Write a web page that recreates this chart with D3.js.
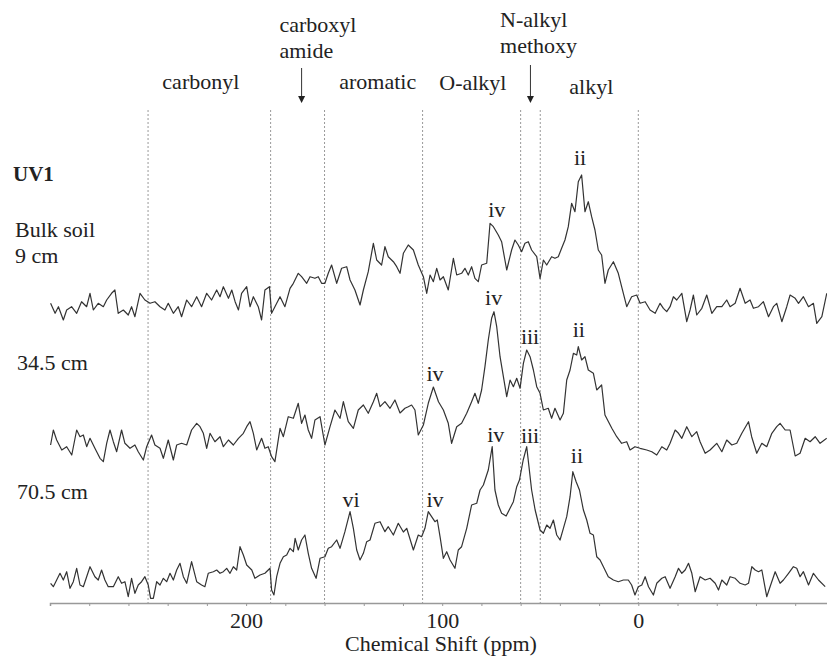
<!DOCTYPE html>
<html>
<head>
<meta charset="utf-8">
<script src="https://cdn.jsdelivr.net/npm/d3@7"></script>
<style>
  body { margin: 0; background: #fff; }
  svg { display: block; }
  svg text { font-family: "Liberation Serif", "Times New Roman", "DejaVu Serif", serif !important; fill: #222; }
</style>
</head>
<body>
<div id="chart"></div>
<script>
// spectra: [chemical shift (ppm), intensity (a.u.)]
const bulk9 = [
  [299.7,21.7],[297.4,11.7],[295.7,18.3],[293.2,5],[291.5,15],[289,18.3],[286.4,11.7],[283.9,23.3],[281.3,18.3],[279.6,31.7],
  [277.9,15],[275.4,21.7],[272.8,18.3],[271.1,25],[268.6,31.7],[266.9,35],[265.2,11.7],[262.6,15],[260.1,10],[258.4,18.3],
  [256.7,8.3],[254.1,31.7],[251.6,25],[249,21.7],[246.5,23.3],[243.9,18.3],[241.4,15],[239.7,21.7],[237.1,11.7],[234.6,18.3],
  [232.9,8.3],[230.3,25],[227.8,18.3],[225.2,28.3],[222.7,18.3],[220.1,31.7],[217.6,25],[215,35],[213.3,28.3],[211.6,38.3],
  [209,26.7],[207.3,35],[205.6,23.3],[203.9,15],[202.3,31.7],[199.7,38.3],[198,18.3],[196.3,28.3],[193.8,18.3],[192.1,5],
  [190.4,35],[188.1,38.3],[187,11.7],[185.3,18.3],[182.7,28.3],[180.2,18.3],[177.6,36.7],[175.9,41.7],[173.4,51.7],[171.7,48.3],
  [169.1,41.7],[167.4,48.3],[164.9,46.7],[163.2,48.3],[161.5,41.7],[159.8,41.7],[158.1,51.7],[156.4,60],[153.8,41.7],[151.3,56.7],
  [148.7,58.3],[147,45],[144.5,35],[141.9,20],[140.2,35],[137.7,53.3],[135.1,81.7],[133.4,65],[130.9,60],[129.2,78.3],
  [127.5,68.3],[124.9,63.3],[123.2,58.3],[121.5,51.7],[119.8,71.7],[117.3,80],[114.7,75],[112.2,60],[109.6,48.3],[107.9,31.7],
  [106.2,50],[104.5,43.3],[102.8,56.7],[101.1,45],[99.4,48.3],[96.9,35],[94.3,66.7],[92.6,50],[90.1,51.7],[88.4,56.7],
  [86.7,50],[85,58.3],[83.3,46.7],[81.6,43.3],[79.9,60],[77.3,61.7],[75.6,101.7],[73.9,98.3],[71.4,90],[69.7,83.3],
  [67.1,55],[64.6,75],[62.9,85],[61.2,80],[59.5,73.3],[57.8,81.7],[56.1,83.3],[54.4,75],[51.8,68.3],[50.1,46.7],
  [48.4,65],[46.7,60],[44.2,68.3],[42.5,66.7],[40.8,68.3],[39.1,76.7],[37.4,85],[35.7,98.3],[34,121.7],[32.3,113.3],
  [30.6,143.3],[28.9,150],[27.2,113.3],[25.5,123.3],[23.8,108.3],[22.1,95],[20.4,75],[18.7,70],[17,41.7],[15.3,55],
  [12.7,63.3],[10.2,51.7],[8.5,38.3],[5.9,18.3],[3.4,28.3],[0.8,30],[-0.9,21.7],[-3.5,23.3],[-6,15],[-8.6,11.7],
  [-11.1,21.7],[-12.8,16.7],[-14.5,13.3],[-16.2,18.3],[-17.9,28.3],[-19.6,25],[-22.2,31.7],[-24.7,3.3],[-26.4,15],[-28.1,30],
  [-29.8,10],[-32.4,16.7],[-34.9,30],[-37.5,11.7],[-40,18.3],[-42.6,18.3],[-45.1,25],[-46.8,18.3],[-49.4,21.7],[-51.9,36.7],
  [-54.5,21.7],[-57,25],[-58.7,16.7],[-61.3,18.3],[-63.8,23.3],[-66.4,8.3],[-68.9,18.3],[-70.6,21.7],[-73.2,3.3],[-75.7,18.3],
  [-77.4,30],[-80,26.7],[-81.7,21.7],[-84.2,28.3],[-86.8,18.3],[-89.3,21.7],[-91,1.7],[-93.6,8.3],[-96.1,31.7]
];

const depth345 = [
  [299.7,20],[298.3,35],[296.6,25],[294,15],[291.5,18.3],[288.9,10],[286.4,35],[284.7,28.3],[283,30],[281.3,18.3],
  [279.6,26.7],[277.1,16.7],[274.5,6.7],[272.8,3.3],[271.1,21.7],[269.4,35],[267.7,23.3],[266,13.3],[263.5,35],[261.8,21.7],
  [259.2,16.7],[256.7,20],[255,13.3],[252.4,5],[250.7,18.3],[248.2,30],[246.5,20],[243.9,16.7],[242.2,6.7],[239.7,25],
  [237.1,5],[235.4,20],[232.9,21.7],[230.3,20],[227.8,35],[225.2,41.7],[223.5,38.3],[221.8,31.7],[220.1,16.7],[218.4,31.7],
  [215.9,23.3],[213.3,28.3],[211.6,18.3],[209,25],[206.5,20],[203.9,26.7],[201.4,31.7],[199.7,38.3],[198,43.3],[196.3,31.7],
  [194.6,15],[192.1,26.7],[190.4,16.7],[188.7,18.3],[187,8.3],[185.3,3.3],[182.7,36.7],[181,28.3],[178.5,48.3],[175.9,46.7],
  [173.4,61.7],[171.7,41.7],[170,50],[168.3,35],[166.6,26.7],[164.9,45],[162.3,48.3],[159.8,20],[157.2,38.3],[154.7,55],
  [152.1,46.7],[150.4,63.3],[147.9,43.3],[145.3,36.7],[142.8,55],[140.2,60],[137.7,51.7],[135.1,63.3],[133.4,71.7],[131.7,58.3],
  [129.2,63.3],[126.6,56.7],[124.1,65],[121.5,52],[119,56.7],[117.3,58.3],[115.6,60],[113.9,55],[112.2,30],[109.6,40],
  [107.1,61.7],[104.5,78],[101.9,63.3],[99.4,55],[96.9,41.7],[95.2,21.7],[92.6,38.3],[90.1,41.7],[87.5,51.7],[85,63.3],
  [83.3,71.7],[81.6,61.7],[79.9,75],[78.2,98.3],[76.5,125],[74.8,146.7],[73.6,153.3],[72.2,138.3],[70.5,108.3],[68.8,88.3],
  [67.1,68.3],[65.4,85],[63.7,78.3],[62,86.7],[60.3,76.7],[58.6,101.7],[56.9,115],[55.2,108.3],[53.5,95],[51.8,78.3],
  [50.1,71.7],[48.4,55],[45.9,56.7],[44.2,46.7],[42.5,56.7],[39.9,45],[38.2,51.7],[36.5,85],[34.8,95],[33.1,111.7],
  [31.4,110],[30.6,118.3],[28.9,105],[27.2,108.3],[25.5,95],[22.9,91.7],[21.2,75],[18.7,80],[17,50],[13.5,36.7],
  [11,28.3],[8.5,21.7],[5.9,23.3],[4.2,15],[1.7,18.3],[-0.9,16.7],[-4.3,15],[-6.9,13.3],[-9.4,10],[-12,18.3],
  [-14.5,15],[-16.2,21.7],[-18.8,35],[-20.5,31.7],[-22.2,26.7],[-24.7,38.3],[-27.3,28.3],[-29.8,33.3],[-31.5,23.3],[-34.1,11.7],
  [-36.6,15],[-40,21.7],[-42.6,13.3],[-45.1,25],[-47.7,20],[-50.2,21.7],[-52.8,31.7],[-56.2,43.3],[-57.8,28.3],[-60.4,11.7],
  [-63,21.7],[-65.5,18.3],[-68.1,31.7],[-70.6,38.3],[-72.3,41.7],[-74.9,35],[-77.4,35],[-80,9],[-82.5,11.7],[-85.1,26.7],
  [-87.6,23.3],[-90.2,28.3],[-92.7,21.7],[-96.1,26.7]
];

const depth705 = [
  [299.7,16.7],[298.3,13.3],[296.6,20],[294.9,26.7],[293.2,20],[291.5,28.3],[289.8,11.7],[288.1,18.3],[286.4,31.7],[284.7,15],
  [283,13.3],[281.3,23.3],[279.6,33.3],[277.1,23.3],[275.4,20],[273.7,30],[272,20],[270.3,13.3],[267.7,13.3],[265.2,23.3],
  [263.5,16.7],[261.8,18.3],[260.1,3.3],[258.4,21.7],[256.7,6.7],[255,15],[253.3,18.3],[251.6,23.3],[249.9,15],[248.7,1.7],
  [247.3,1.7],[245.6,18.3],[243.9,15],[242.2,21.7],[240.5,18.3],[238.8,26.7],[237.1,20],[235.4,30],[233.7,36.7],[232,23.3],
  [230.3,16.7],[227.8,38.3],[225.2,18.3],[222.7,15],[221,13.3],[219.3,26.7],[216.7,28.3],[215,30],[213.3,26.7],[211.6,28.3],
  [209.9,31.7],[208.2,26.7],[206.5,33.3],[204.8,30],[203.1,53.3],[201.4,45],[199.7,35],[197.1,30],[195.5,21.7],[192.9,25],
  [190.4,26.7],[187.8,31.7],[187,10],[185.8,5],[184.4,23.3],[182.7,36.7],[181,43.3],[179.3,45],[177.6,51.7],[175.9,48.3],
  [175,61.7],[173.4,50],[171.7,60],[170,65],[168.3,46.7],[166.6,31.7],[164.3,21.7],[162.3,41.7],[159.8,43.3],[158.1,51.7],
  [156.4,53.3],[153.8,60],[152.1,51.7],[149.6,68.3],[147,88.3],[145.3,71.7],[143.6,50],[141.9,40],[140.2,46.7],[138.5,58.3],
  [136.8,60],[134.3,76.7],[131.7,78.3],[129.2,68.3],[127.5,73.3],[124.9,65],[122.4,76.7],[119.8,68],[118.1,71.7],[114.7,50],
  [112.2,65],[110.5,63.3],[108.8,71.7],[107.1,88.3],[105.4,83.3],[103.7,78.3],[102.5,80],[101.1,63.3],[99.4,41.7],[97.7,48.3],
  [96,40],[93.5,31.7],[91.8,50],[90.1,53.3],[87.5,71.7],[85,95],[82.4,96.7],[80.7,110],[79,115],[76.5,130],
  [74.5,153.3],[73.1,110],[71.4,95],[69.7,86.7],[67.4,84],[65.4,91.7],[63.7,98.3],[62,113.3],[60.6,120],[58.7,140],
  [56.9,153.3],[54.4,110],[52.6,90],[50.1,70],[48.4,66.7],[46.7,75],[45,71.7],[43.3,80],[41.6,65],[39.9,60],
  [38.2,71.7],[36.5,83.3],[34.8,103.3],[33.4,128.3],[31.7,118.3],[30,110],[28,90],[26.3,80],[24.6,66.7],[22.9,65],
  [21.2,43.3],[19.5,40],[17.8,33.3],[15.3,23.3],[12.7,20],[10.2,18.3],[7.6,20],[5.1,20],[3.4,15],[1.7,5],
  [0,13.3],[-1.8,15],[-3.5,23.3],[-5.2,13.3],[-7.7,5],[-9.4,16.7],[-12,21.7],[-13.7,23.3],[-16.2,11.7],[-18.8,23.3],
  [-20.5,31.7],[-22.2,26.7],[-23.9,30],[-25.6,36.7],[-27.3,26.7],[-29,8.3],[-31.5,23.3],[-34.1,20],[-36.6,21.7],[-39.2,16.7],
  [-40.9,10],[-42.6,20],[-45.1,15],[-46.8,23.3],[-49.4,21.7],[-51.9,16.7],[-54.5,15],[-56.2,16.7],[-57.9,33.3],[-59.6,30],
  [-61.3,28.3],[-63,30],[-65.5,3.3],[-67.2,13.3],[-69.8,28.3],[-72.3,16.7],[-74,20],[-76.6,26.7],[-79.1,33.3],[-80.8,31.7],
  [-82.5,23.3],[-84.2,28.3],[-86.8,15],[-89.3,26.7],[-91.9,20],[-95.3,13.3]
];

const spectrumNames = [['Bulk soil', '9 cm'], ['34.5 cm'], ['70.5 cm']];

// region boundaries (ppm)
const boundaries = [250, 187.5, 160, 110, 60, 50, 0];

// region labels: [text lines, ppm of left edge]
const regionLabels = [
  [['carbonyl'], 242.7],
  [['carboxyl', 'amide'], 183],
  [['aromatic'], 152.5],
  [['O-alkyl'], 101.5],
  [['N-alkyl', 'methoxy'], 70.5],
  [['alkyl'], 35.2]
];
const arrowPpm = [171.7, 55];

// peak labels per spectrum: [label, ppm, intensity level]
const peakLabels = [
  [['ii', 29.7, 160], ['iv', 72.2, 108]],
  [['iv', 73.8, 160], ['iii', 55.2, 121], ['ii', 30.3, 128], ['iv', 103.7, 84]],
  [['iv', 72.7, 158], ['iii', 55.2, 157], ['ii', 31.3, 137], ['iv', 103.7, 93], ['vi', 146.5, 93]]
];

const tickEvery = 20;
const labelledTicks = [200, 100, 0];

const fullWidth = 827, fullHeight = 660;
const axisY = 603;
const baselines = [325, 465, 600];
const serif = '"Liberation Serif", "Times New Roman", "DejaVu Serif", serif';

const svg = d3.select('#chart').append('svg')
  .attr('width', fullWidth)
  .attr('height', fullHeight)
  .attr('font-family', serif);

const x = d3.scaleLinear().domain([300, -100]).range([50, 834.4]);

const yScales = baselines.map(b => d3.scaleLinear().domain([0, 160]).range([b, b - 160]));

// dotted boundaries
svg.append('g')
  .selectAll('line')
  .data(boundaries)
  .join('line')
    .attr('x1', d => x(d)).attr('x2', d => x(d))
    .attr('y1', 110).attr('y2', axisY)
    .attr('stroke', '#999')
    .attr('stroke-width', 1)
    .attr('stroke-dasharray', '2,2');

// axis
const axis = d3.axisBottom(x)
  .tickValues(d3.range(300, -100, -tickEvery))
  .tickSize(3)
  .tickPadding(6)
  .tickFormat(d => labelledTicks.includes(d) ? d : '');

svg.append('g')
  .attr('transform', `translate(0, ${axisY})`)
  .call(axis)
  .attr('font-family', serif)
  .attr('font-size', 22)
  .call(g => g.select('.domain').attr('stroke', '#999').attr('stroke-width', 1.5))
  .call(g => g.selectAll('.tick line').attr('stroke', '#999'))
  .call(g => g.selectAll('.tick text').attr('fill', '#222'));

svg.append('text')
  .attr('x', 441)
  .attr('y', 651)
  .attr('text-anchor', 'middle')
  .attr('font-size', 22)
  .text('Chemical Shift (ppm)');

// spectra
const spectra = [bulk9, depth345, depth705];
spectra.forEach((data, i) => {
  const line = d3.line()
    .x(d => x(d[0]))
    .y(d => yScales[i](d[1]));
  svg.append('path')
    .datum(data)
    .attr('d', line)
    .attr('fill', 'none')
    .attr('stroke', '#333')
    .attr('stroke-width', 1.2)
    .attr('stroke-linejoin', 'round');

  svg.append('g')
    .selectAll('text')
    .data(peakLabels[i])
    .join('text')
      .attr('x', d => x(d[1]))
      .attr('y', d => yScales[i](d[2]))
      .attr('text-anchor', 'middle')
      .attr('font-size', 22)
      .text(d => d[0]);
});

// sample labels
svg.append('text')
  .attr('x', 13).attr('y', 181)
  .attr('font-size', 21)
  .attr('font-weight', 'bold')
  .text('UV1');

const nameY = [[237, 263], [370], [499]];
spectrumNames.forEach((lines, i) => {
  lines.forEach((t, j) => {
    svg.append('text')
      .attr('x', i === 0 ? 15 : 17)
      .attr('y', nameY[i][j])
      .attr('font-size', 22)
      .text(t);
  });
});

// region labels
const regionBaselines = [[89], [32, 58], [89], [90], [27, 53], [94]];
regionLabels.forEach((r, i) => {
  r[0].forEach((t, j) => {
    svg.append('text')
      .attr('x', x(r[1]))
      .attr('y', regionBaselines[i][j])
      .attr('font-size', 22)
      .text(t);
  });
});

// arrows
const arrowTops = [68, 65];
arrowPpm.forEach((p, i) => {
  const ax = x(p);
  svg.append('line')
    .attr('x1', ax).attr('x2', ax)
    .attr('y1', arrowTops[i]).attr('y2', 97)
    .attr('stroke', '#333').attr('stroke-width', 1);
  svg.append('path')
    .attr('d', `M${ax - 3.5},96 L${ax + 3.5},96 L${ax},103 Z`)
    .attr('fill', '#222');
});
</script>
</body>
</html>
